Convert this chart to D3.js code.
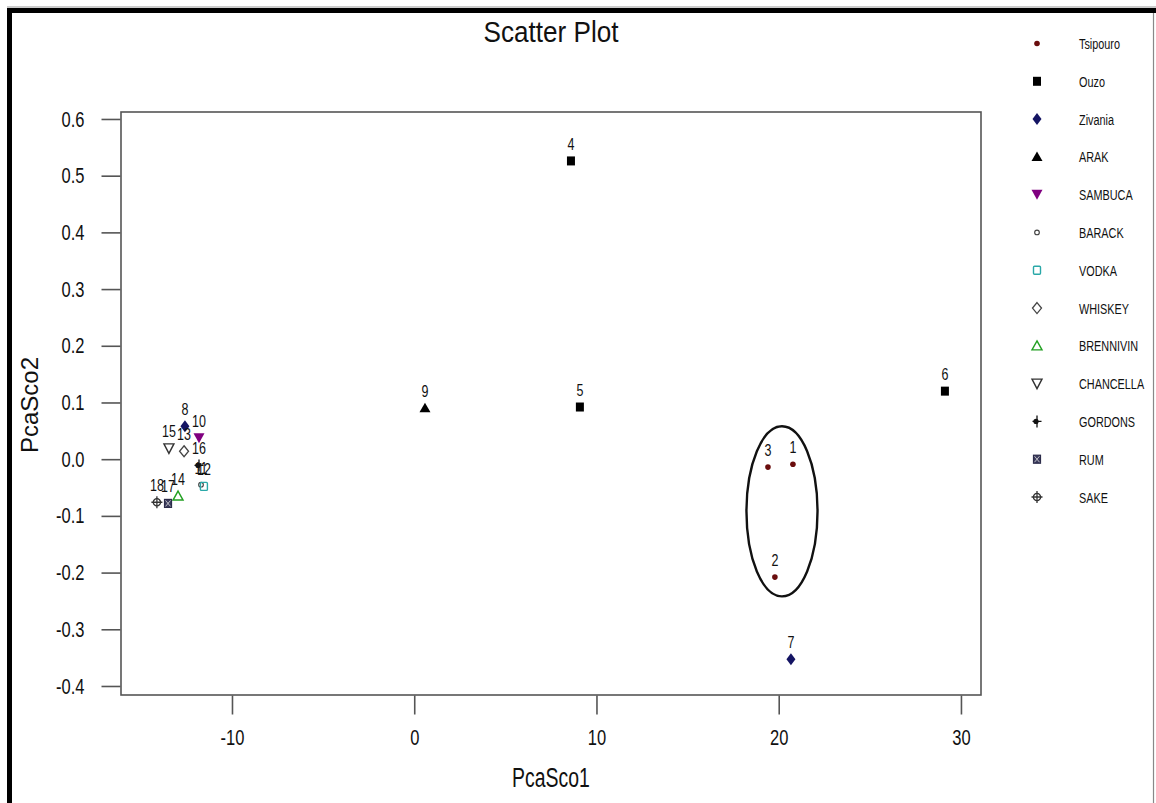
<!DOCTYPE html>
<html>
<head>
<meta charset="utf-8">
<script src="https://cdn.jsdelivr.net/npm/d3@7/dist/d3.min.js"></script>
<style>
  html, body { margin: 0; padding: 0; background: #fff; }
  svg { display: block; }
  text { font-family: "Liberation Sans", Arial, sans-serif; fill: #111; }
</style>
</head>
<body>
<svg id="chart" width="1156" height="803"></svg>
<script>
// ---------------- data ----------------
const categories = ["Tsipouro", "Ouzo", "Zivania", "ARAK", "SAMBUCA", "BARACK", "VODKA",
  "WHISKEY", "BRENNIVIN", "CHANCELLA", "GORDONS", "RUM", "SAKE"];
const pointIds = [1, 2, 3, 4, 5, 6, 7, 8, 9, 10, 11, 12, 13, 14, 15, 16, 17, 18];
const pointCategory = ["Tsipouro", "Tsipouro", "Tsipouro", "Ouzo", "Ouzo", "Ouzo", "Zivania", "Zivania",
  "ARAK", "SAMBUCA", "BARACK", "VODKA", "WHISKEY", "BRENNIVIN", "CHANCELLA", "GORDONS", "RUM", "SAKE"];
const pcaSco1 = [20.78, 19.79, 19.41, 8.60, 9.09, 29.12, 20.67, -12.58, 0.59, -11.81,
  -11.70, -11.54, -12.63, -12.96, -13.46, -11.81, -13.51, -14.12];
const pcaSco2 = [-0.009, -0.208, -0.014, 0.526, 0.092, 0.120, -0.353, 0.058, 0.090, 0.037,
  -0.045, -0.048, 0.014, -0.065, 0.019, -0.011, -0.078, -0.076];
const xTicks = [-10, 0, 10, 20, 30];
const yTicks = [0.6, 0.5, 0.4, 0.3, 0.2, 0.1, 0.0, -0.1, -0.2, -0.3, -0.4];
const yTickLabels = ["0.6", "0.5", "0.4", "0.3", "0.2", "0.1", "0.0", "-0.1", "-0.2", "-0.3", "-0.4"];
// ellipse drawn around the Tsipouro group: [centre x, centre y, radius x, radius y] in data units
const groupEllipse = [20.18, -0.092, 1.95, 0.150];

// ---------------- styles ----------------
const catStyle = {
  Tsipouro:  { shape: "dot",        color: "#6a0d0d" },
  Ouzo:      { shape: "square",     color: "#000000" },
  Zivania:   { shape: "diamond",    color: "#141463" },
  ARAK:      { shape: "triUp",      color: "#000000" },
  SAMBUCA:   { shape: "triDown",    color: "#800080" },
  BARACK:    { shape: "circleOpen", color: "#444444" },
  VODKA:     { shape: "squareOpen", color: "#2aa8a8" },
  WHISKEY:   { shape: "diamondOpen",color: "#444444" },
  BRENNIVIN: { shape: "triUpOpen",  color: "#22a022" },
  CHANCELLA: { shape: "triDownOpen",color: "#333333" },
  GORDONS:   { shape: "plusDot",    color: "#111111" },
  RUM:       { shape: "squareX",    color: "#2b2b4a" },
  SAKE:      { shape: "circlePlus", color: "#333333" }
};

const svg = d3.select("#chart");

// helper: horizontally condensed text
function squeeze(sel, f) {
  sel.each(function() {
    const w = this.getComputedTextLength();
    if (w > 0) {
      d3.select(this).attr("textLength", w * f).attr("lengthAdjust", "spacingAndGlyphs");
    }
  });
}

// outer frame
svg.append("rect").attr("x", 0).attr("y", 0).attr("width", 1156).attr("height", 803).attr("fill", "#fff");
svg.append("line").attr("x1", 7).attr("x2", 1156).attr("y1", 7).attr("y2", 7).attr("stroke", "#999").attr("stroke-width", 1);
svg.append("rect").attr("x", 7).attr("y", 8).attr("width", 1149).attr("height", 5).attr("fill", "#000");
svg.append("rect").attr("x", 7).attr("y", 8).attr("width", 5).attr("height", 795).attr("fill", "#000");
svg.append("line").attr("x1", 1153.5).attr("x2", 1153.5).attr("y1", 13).attr("y2", 803).attr("stroke", "#888").attr("stroke-width", 1.2);

// plot region
const L = 121, R = 981, T = 112, B = 695;
const x = d3.scaleLinear().domain([-16.09, 31.1]).range([L, R]);
const y = d3.scaleLinear().domain([-0.4159, 0.6123]).range([B, T]);

// axes
const yAxis = d3.axisLeft(y).tickValues(yTicks).tickSize(19).tickPadding(17)
  .tickFormat((d, i) => yTickLabels[i]);
const gy = svg.append("g").attr("transform", `translate(${L - 0.5},0)`).call(yAxis);
gy.select(".domain").remove();
gy.selectAll(".tick line").attr("stroke", "#555").attr("stroke-width", 1.6);
gy.selectAll(".tick text").attr("font-size", 22).attr("fill", "#111")
  .attr("font-family", "Liberation Sans, Arial, sans-serif").call(squeeze, 0.75);

const xAxis = d3.axisBottom(x).tickValues(xTicks).tickSize(19).tickPadding(15)
  .tickFormat(d => String(d));
const gx = svg.append("g").attr("transform", `translate(0,${B + 0.5})`).call(xAxis);
gx.select(".domain").remove();
gx.selectAll(".tick line").attr("stroke", "#555").attr("stroke-width", 1.6);
gx.selectAll(".tick text").attr("font-size", 22).attr("fill", "#111")
  .attr("font-family", "Liberation Sans, Arial, sans-serif").call(squeeze, 0.75);

// plot box
svg.append("rect").attr("x", L).attr("y", T).attr("width", R - L).attr("height", B - T)
  .attr("fill", "none").attr("stroke", "#555").attr("stroke-width", 1.6);

// title and axis titles
svg.append("text").attr("x", 551).attr("y", 42).attr("text-anchor", "middle")
  .attr("font-size", 30).text("Scatter Plot")
  .attr("textLength", 135).attr("lengthAdjust", "spacingAndGlyphs");
svg.append("text").attr("x", 551).attr("y", 787).attr("text-anchor", "middle")
  .attr("font-size", 27).text("PcaSco1").call(squeeze, 0.72);
svg.append("text").attr("transform", "translate(38,405) rotate(-90)").attr("text-anchor", "middle")
  .attr("font-size", 24).text("PcaSco2");

// marker drawing
function drawMarker(g, shape, color) {
  switch (shape) {
    case "dot":
      g.append("circle").attr("r", 2.8).attr("fill", color); break;
    case "square":
      g.append("rect").attr("x", -4).attr("y", -4.5).attr("width", 8).attr("height", 9).attr("fill", color); break;
    case "diamond":
      g.append("path").attr("d", "M0,-6L4.5,0L0,6L-4.5,0Z").attr("fill", color); break;
    case "triUp":
      g.append("path").attr("d", "M0,-5.5L5.5,4L-5.5,4Z").attr("fill", color); break;
    case "triDown":
      g.append("path").attr("d", "M-5.5,-5L5.5,-5L0,5Z").attr("fill", color); break;
    case "circleOpen":
      g.append("circle").attr("r", 2.3).attr("fill", "none").attr("stroke", color).attr("stroke-width", 1.2); break;
    case "squareOpen":
      g.append("rect").attr("x", -3.5).attr("y", -4).attr("width", 7).attr("height", 8).attr("rx", 1)
        .attr("fill", "none").attr("stroke", color).attr("stroke-width", 1.4); break;
    case "diamondOpen":
      g.append("path").attr("d", "M0,-5.5L4.5,0L0,5.5L-4.5,0Z").attr("fill", "none")
        .attr("stroke", color).attr("stroke-width", 1.3); break;
    case "triUpOpen":
      g.append("path").attr("d", "M0,-5L5,4L-5,4Z").attr("fill", "none")
        .attr("stroke", color).attr("stroke-width", 1.4); break;
    case "triDownOpen":
      g.append("path").attr("d", "M-5,-4.5L5,-4.5L0,5Z").attr("fill", "none")
        .attr("stroke", color).attr("stroke-width", 1.4); break;
    case "plusDot":
      g.append("path").attr("d", "M0,-6V6M-4.5,0H4.5").attr("stroke", color).attr("stroke-width", 1.3);
      g.append("circle").attr("cx", -1).attr("cy", 0).attr("r", 2.6).attr("fill", color); break;
    case "squareX":
      g.append("rect").attr("x", -3.5).attr("y", -4).attr("width", 7).attr("height", 8)
        .attr("fill", "#3b3b5c").attr("stroke", color).attr("stroke-width", 1.2);
      g.append("path").attr("d", "M-2.5,-3L2.5,3M2.5,-3L-2.5,3").attr("stroke", "#ddd").attr("stroke-width", 0.8); break;
    case "circlePlus":
      g.append("circle").attr("r", 3.6).attr("fill", "none").attr("stroke", color).attr("stroke-width", 1.3);
      g.append("path").attr("d", "M0,-6V6M-5.5,0H5.5").attr("stroke", color).attr("stroke-width", 1.3); break;
  }
}

// points
const pts = pointIds.map((id, i) => ({ id, cat: pointCategory[i], x: pcaSco1[i], y: pcaSco2[i] }));
const pg = svg.append("g");
pts.forEach(p => {
  const g = pg.append("g").attr("transform", `translate(${x(p.x)},${y(p.y)})`);
  drawMarker(g, catStyle[p.cat].shape, catStyle[p.cat].color);
});
// point labels (above each point)
const lg = svg.append("g");
pts.forEach(p => {
  lg.append("text").attr("x", x(p.x)).attr("y", y(p.y) - 11).attr("text-anchor", "middle")
    .attr("font-size", 16).attr("fill", "#1c1c1c").text(p.id).call(squeeze, 0.78);
});

// group ellipse
svg.append("ellipse")
  .attr("cx", x(groupEllipse[0])).attr("cy", y(groupEllipse[1]))
  .attr("rx", x(groupEllipse[0] + groupEllipse[2]) - x(groupEllipse[0]))
  .attr("ry", y(groupEllipse[1] - groupEllipse[3]) - y(groupEllipse[1]))
  .attr("fill", "none").attr("stroke", "#111").attr("stroke-width", 2.4);

// legend
const legY = d3.scalePoint().domain(categories).range([43.5, 497]);
const leg = svg.append("g");
categories.forEach(c => {
  const g = leg.append("g").attr("transform", `translate(1037,${legY(c)})`);
  drawMarker(g, catStyle[c].shape, catStyle[c].color);
  leg.append("text").attr("x", 1079).attr("y", legY(c) + 5.5).attr("font-size", 15.5)
    .attr("fill", "#111").text(c).call(squeeze, 0.7);
});
</script>
</body>
</html>
